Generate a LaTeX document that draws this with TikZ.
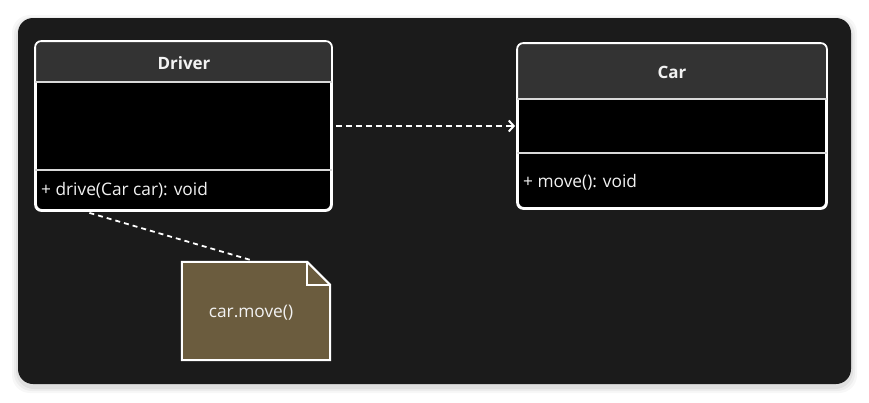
\documentclass[tikz,border=0pt]{standalone}
\usepackage{fontspec}
\setmainfont{Open Sans}
\usetikzlibrary{calc,arrows.meta}
\definecolor{bgdark}{HTML}{1B1B1B}
\definecolor{hdr}{HTML}{333333}
\definecolor{notefill}{HTML}{6B5C3E}
\definecolor{txt}{HTML}{F2F2F2}
\tikzset{
  classbox/.style={draw=white, line width=1.8pt, fill=black, rounded corners=6pt, inner sep=0pt},
  sepline/.style={draw=white!85!black, line width=1.8pt},
  title/.style={text=txt, font=\fontsize{17}{20}\selectfont\bfseries},
  member/.style={text=txt, font=\fontsize{17.3}{20}\selectfont, anchor=west, inner sep=0pt},
  conn/.style={draw=white, line width=2pt, dash pattern=on 6pt off 4pt},
  notebox/.style={inner sep=0pt, minimum width=148pt, minimum height=98pt}
}
\begin{document}
\begin{tikzpicture}[x=1pt,y=-1pt]
\useasboundingbox (0,0) rectangle (869,402);
\fill[white] (0,0) rectangle (869,402);
% shadow
\foreach \s/\o in {6/0.03,4/0.04,2/0.05}{
  \fill[black, opacity=\o, rounded corners=18pt] (18-\s,18-\s+3) rectangle (851+\s,384+\s+3);
}
\fill[bgdark, rounded corners=15pt] (18,18) rectangle (851,384);

% Driver class
\node[classbox, minimum width=295pt, minimum height=168pt] (driver) at (183.5,126) {};
\begin{scope}
  \clip (driver.north west) ++(-2,-2) rectangle ($(driver.west|-0,82)+(297,0)$);
  \fill[hdr, rounded corners=6pt] (driver.north west) rectangle (driver.south east);
\end{scope}
\draw[white, line width=1.8pt, rounded corners=6pt] (driver.north west) rectangle (driver.south east);
\draw[sepline] (driver.west|-0,82) -- (driver.east|-0,82);
\draw[sepline] (driver.west|-0,170) -- (driver.east|-0,170);
\node[title] (drivername) at (184,63) {Driver};
\node[member] (drivemethod) at (41,190) {+ drive(Car car): void};

% Car class
\node[classbox, minimum width=308pt, minimum height=164pt] (car) at (672,126) {};
\begin{scope}
  \clip (car.north west) ++(-2,-2) rectangle ($(car.west|-0,99)+(310,0)$);
  \fill[hdr, rounded corners=6pt] (car.north west) rectangle (car.south east);
\end{scope}
\draw[white, line width=1.8pt, rounded corners=6pt] (car.north west) rectangle (car.south east);
\draw[sepline] (car.west|-0,99) -- (car.east|-0,99);
\draw[sepline] (car.west|-0,153) -- (car.east|-0,153);
\node[title] (carname) at (672,72) {Car};
\node[member] (movemethod) at (523,182) {+ move(): void};

% dependency arrow
\draw[conn, -{Straight Barb[length=5pt,width=11pt,line width=2pt]}, shorten <=4pt, shorten >=2pt] (driver.east) -- (car.west);

% note
\node[notebox] (note) at (256,311) {};
\filldraw[fill=notefill, draw=white, line width=2pt, line join=miter]
  (note.north west) -- ($(note.north east)+(-23,0)$) -- ($(note.north east)+(0,23)$)
  -- (note.south east) -- (note.south west) -- cycle;
\draw[white, line width=2pt] ($(note.north east)+(-23,0)$) -- ++(0,23) -- ++(23,0);
\node[text=txt, font=\fontsize{17.3}{20}\selectfont] (notetext) at (251,313) {car.move()};

% note connector
\coordinate (dstart) at ($(driver.south west)!0.183!(driver.south east)+(0,2)$);
\coordinate (nend) at ($(note.north)+(-6,-2)$);
\draw[conn, line width=1.8pt, dash pattern=on 5pt off 4pt] (dstart) -- (nend);
\end{tikzpicture}
\end{document}
